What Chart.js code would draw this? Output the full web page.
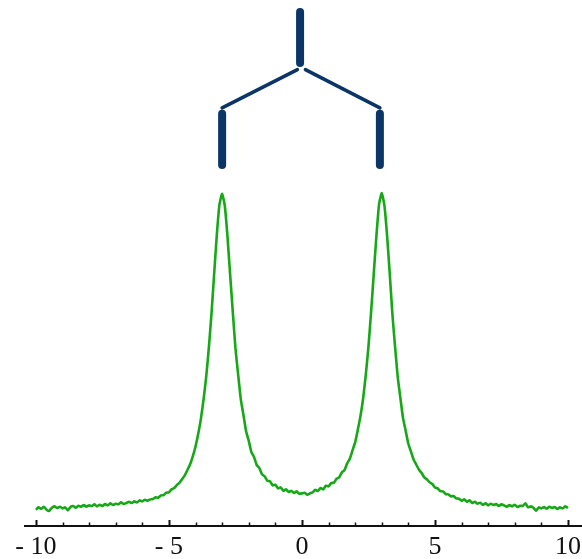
<!DOCTYPE html>
<html>
<head>
<meta charset="utf-8">
<script src="https://cdn.jsdelivr.net/npm/chart.js@4.4.1/dist/chart.umd.min.js"></script>
<style>
  html, body { margin: 0; padding: 0; background: #fff; }
</style>
</head>
<body>
<canvas id="spectrum" width="582" height="559"></canvas>
<script>
// chemical shift grid: -10 .. 10, step 0.1
const shiftStart = -10;
const shiftStep = 0.1;

// intensity (peak = 100)
const intensity = [
  4.9, 5.6, 5.2, 5.8, 4.9, 4.5, 5.5, 5.9, 5.4, 5.8,
  5.3, 5.6, 4.7, 5.7, 6.0, 5.5, 6.1, 5.8, 6.3, 5.8,
  6.2, 6.0, 6.5, 5.9, 6.4, 6.0, 6.6, 6.2, 6.8, 6.3,
  6.7, 6.5, 7.1, 6.6, 6.9, 7.3, 6.9, 7.4, 7.1, 7.7,
  7.4, 7.9, 7.6, 8.0, 8.1, 8.6, 8.5, 9.2, 9.3, 10.0,
  10.1, 11.0, 11.4, 12.3, 13.0, 14.1, 15.3, 16.9, 18.6, 21.0,
  23.9, 27.6, 32.1, 37.9, 44.7, 53.4, 63.8, 75.7, 87.4, 96.6,
  99.8, 96.2, 87.1, 75.6, 64.4, 53.5, 45.6, 38.2, 33.4, 28.5,
  25.6, 22.2, 20.7, 18.3, 17.4, 15.5, 14.9, 13.6, 13.4, 12.2,
  12.4, 11.3, 11.6, 10.6, 11.0, 10.2, 10.6, 9.9, 10.4, 9.7,
  9.8, 10.0, 9.4, 9.8, 10.1, 10.9, 10.5, 11.4, 11.0, 12.1,
  11.9, 12.9, 13.0, 14.2, 14.6, 16.1, 16.8, 18.8, 20.2, 22.7,
  25.1, 28.9, 33.0, 38.3, 45.4, 53.8, 64.3, 75.8, 87.2, 96.7,
  100.0, 96.3, 87.3, 75.9, 63.7, 53.9, 44.8, 38.5, 32.4, 28.6,
  24.7, 22.3, 19.9, 18.4, 16.9, 15.9, 14.6, 14.0, 13.1, 12.6,
  11.6, 11.3, 10.5, 10.4, 9.6, 9.5, 8.9, 9.0, 8.3, 8.2,
  7.6, 8.0, 7.3, 7.7, 6.9, 7.3, 6.7, 7.0, 6.4, 6.8,
  6.2, 6.7, 6.3, 6.6, 6.0, 6.5, 6.2, 5.8, 6.3, 5.9,
  6.4, 5.7, 6.1, 6.0, 6.8, 5.6, 5.9, 5.5, 4.6, 5.6,
  5.3, 5.7, 5.2, 5.8, 5.4, 5.7, 5.1, 5.6, 5.3, 5.9,
  5.4
];

// splitting tree: root line, branch ends, leaf lines
const rootShift = [-0.07, -0.07];
const rootLevel = [154.4, 139.1];
const branchLeftShift = [-0.17, -3.0];
const branchRightShift = [0.13, 2.93];
const branchLevel = [137.1, 125.6];
const leafLeftShift = [-3.0, -3.0];
const leafRightShift = [2.93, 2.93];
const leafLevel = [123.8, 108.4];

// x axis ticks
const minorTicks = [-10, -9, -8, -7, -6, -5, -4, -3, -2, -1, 0, 1, 2, 3, 4, 5, 6, 7, 8, 9, 10];
const majorTicks = [-10, -5, 0, 5, 10];
const tickLabels = ['- 10', '- 5', '0', '5', '10'];

const navy = '#0b3566';
const green = '#17a817';

const pts = (xs, ys) => xs.map((x, i) => ({ x: x, y: ys[i] }));

function treeLine(xs, ys, w) {
  return {
    data: pts(xs, ys),
    borderColor: navy,
    borderWidth: w,
    borderCapStyle: 'round',
    pointRadius: 0,
    tension: 0
  };
}

const tickMarks = {
  id: 'tickMarks',
  afterDraw(chart) {
    const { ctx, chartArea } = chart;
    const x = chart.scales.x;
    ctx.save();
    ctx.strokeStyle = '#111';
    minorTicks.forEach(v => {
      const major = majorTicks.includes(v);
      const px = Math.round(x.getPixelForValue(v)) + 0.5;
      ctx.lineWidth = major ? 2 : 1.5;
      ctx.beginPath();
      ctx.moveTo(px, chartArea.bottom);
      ctx.lineTo(px, chartArea.bottom - (major ? 6 : 3.5));
      ctx.stroke();
    });
    ctx.restore();
  }
};

new Chart(document.getElementById('spectrum').getContext('2d'), {
  type: 'line',
  data: {
    datasets: [
      {
        data: intensity.map((v, i) => ({ x: shiftStart + i * shiftStep, y: v })),
        borderColor: green,
        borderWidth: 2.6,
        pointRadius: 0,
        tension: 0.15
      },
      treeLine(rootShift, rootLevel, 8),
      treeLine(branchLeftShift, branchLevel, 3.5),
      treeLine(branchRightShift, branchLevel, 3.5),
      treeLine(leafLeftShift, leafLevel, 8),
      treeLine(leafRightShift, leafLevel, 8)
    ]
  },
  options: {
    responsive: false,
    animation: false,
    clip: false,
    layout: { padding: { left: 25, right: 1, top: 0, bottom: 0 } },
    plugins: { legend: { display: false }, tooltip: { enabled: false } },
    scales: {
      x: {
        type: 'linear',
        min: -10.41,
        max: 10.49,
        afterBuildTicks: scale => { scale.ticks = minorTicks.map(v => ({ value: v })); },
        afterFit: scale => {
          scale.paddingLeft = 0;
          scale.paddingRight = 0;
          scale.height = 33;
        },
        grid: { display: false, drawTicks: false, tickLength: 0 },
        border: { display: true, color: '#111', width: 2 },
        ticks: {
          autoSkip: false,
          maxRotation: 0,
          padding: 8,
          color: '#111',
          font: { family: "'Liberation Serif', 'Times New Roman', serif", size: 26, lineHeight: 1 },
          callback: value => {
            const i = majorTicks.indexOf(value);
            return i >= 0 ? tickLabels[i] : '';
          }
        }
      },
      y: { display: false, min: 0, max: 158 }
    }
  },
  plugins: [tickMarks]
});
</script>
</body>
</html>
